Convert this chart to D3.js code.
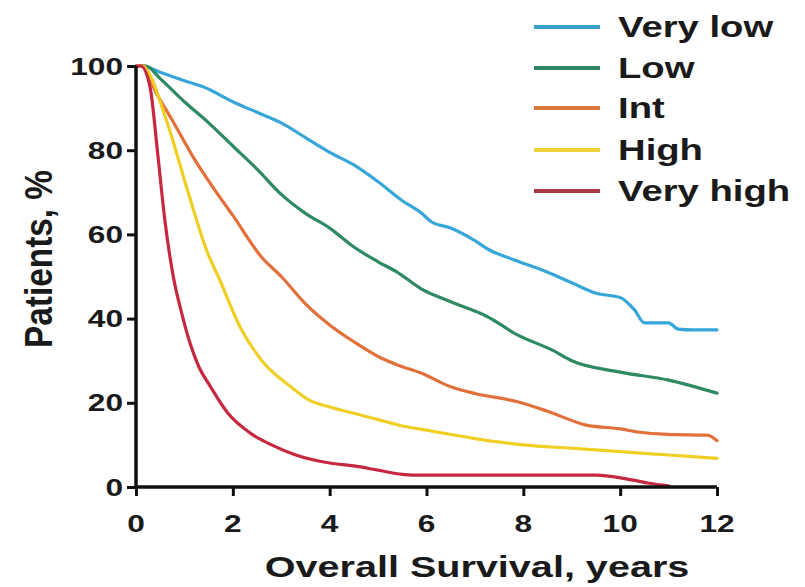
<!DOCTYPE html>
<html><head><meta charset="utf-8">
<script src="https://cdn.jsdelivr.net/npm/d3@7"></script>
<style>body{margin:0;background:#fff}svg{display:block}text{font-family:"Liberation Sans",Arial,sans-serif;font-weight:bold;fill:#1a1a1a}</style>
</head><body>
<svg id="c" width="805" height="587"></svg>
<script>
const seriesNames = ["Very low", "Low", "Int", "High", "Very high"];
const seriesColors = ["#37a6d8", "#2d8a63", "#e2703a", "#f0cf24", "#c62841"];
const legendColors = ["#3a9fcf", "#2f8462", "#d9743f", "#ecd13a", "#a93646"];
const xTicks = [0, 2, 4, 6, 8, 10, 12];
const yTicks = [0, 20, 40, 60, 80, 100];

const veryLowT = [0, 0.15, 0.5, 1.0, 1.4, 2, 2.5, 3, 3.5, 4, 4.5, 5, 5.5, 5.9, 6.1, 6.5, 7, 7.3, 7.8, 8.5, 9, 9.5, 10, 10.3, 10.5, 11, 11.2, 11.5, 12];
const veryLowV = [100, 100, 98.5, 96.5, 95, 91.5, 89, 86.5, 83, 79.5, 76.5, 72.5, 68, 65, 63, 61.5, 58.5, 56.3, 54, 51, 48.5, 46, 45, 42, 39, 39, 37.5, 37.3, 37.3];
const lowT = [0, 0.2, 0.5, 1.0, 1.5, 2, 2.5, 3, 3.5, 4, 4.5, 5, 5.4, 5.9, 6.5, 7.25, 7.9, 8.6, 9, 10, 11, 12];
const lowV = [100, 100, 97, 91.5, 86.5, 81, 75.5, 69.5, 65, 61.5, 57, 53.5, 51, 47, 44, 40.5, 36, 32.5, 30, 27.3, 25.4, 22.3];
const intT = [0, 0.15, 0.4, 0.77, 1.2, 1.6, 2, 2.6, 3, 3.5, 4, 4.5, 5, 5.4, 5.9, 6.5, 7, 7.9, 8.5, 9.3, 10, 10.4, 11, 11.8, 12];
const intV = [100, 100, 94, 86.7, 78, 71, 64.5, 54.5, 50, 43.5, 38.5, 34.5, 31, 29, 27, 23.8, 22.2, 20.2, 18, 14.7, 13.8, 13, 12.5, 12.3, 11];
const highT = [0, 0.12, 0.64, 1.05, 1.5, 1.7, 2.15, 2.6, 3.2, 3.6, 4, 4.5, 5, 5.5, 6, 7, 8, 9, 10, 11, 12];
const highV = [100, 100, 86.7, 71, 55, 50, 38, 30, 23.8, 20.5, 19, 17.5, 16, 14.5, 13.5, 11.5, 10, 9.2, 8.4, 7.6, 6.8];
const veryHighT = [0, 0.1, 0.29, 0.45, 0.6, 0.77, 0.95, 1.12, 1.3, 1.53, 1.9, 2.36, 2.8, 3.3, 4, 4.5, 5, 5.5, 5.9, 7, 8, 9.5, 10.1, 10.6, 11];
const veryHighV = [100, 100, 95, 79, 63, 50, 41, 34, 28.5, 24, 17.5, 12.8, 10, 7.6, 5.7, 5, 4, 3, 2.8, 2.8, 2.8, 2.8, 2, 0.9, 0.3];

const seriesT = [veryLowT, lowT, intT, highT, veryHighT];
const seriesV = [veryLowV, lowV, intV, highV, veryHighV];

const svg = d3.select("#c");
const x = d3.scaleLinear().domain([0, 12]).range([136, 717]);
const y = d3.scaleLinear().domain([0, 100]).range([487, 66]);
const SX = 1.32;

function stretchedText(g, tx, ty, str, size, anchor) {
  return g.append("text").attr("transform", `translate(${tx},${ty}) scale(${SX},1)`)
    .attr("text-anchor", anchor).style("font-size", size + "px").text(str);
}

// curves
const line = d3.line().x(d => x(d[0])).y(d => y(d[1])).curve(d3.curveMonotoneX);
seriesT.forEach((ts, i) => {
  const pts = ts.map((t, j) => [t, seriesV[i][j]]);
  svg.append("path").attr("d", line(pts)).attr("fill", "none")
    .attr("stroke", seriesColors[i]).attr("stroke-width", 3.2)
    .attr("stroke-linejoin", "round").attr("stroke-linecap", "round");
});

// axes
const xAxis = svg.append("g").attr("transform", `translate(0,${y(0)})`)
  .call(d3.axisBottom(x).tickValues(xTicks).tickSize(9).tickFormat(""));
const yAxis = svg.append("g").attr("transform", `translate(${x(0)},0)`)
  .call(d3.axisLeft(y).tickValues(yTicks).tickSize(9).tickFormat(""));
[xAxis, yAxis].forEach(a => {
  a.select(".domain").attr("stroke", "#111").attr("stroke-width", 3.5);
  a.selectAll(".tick line").attr("stroke", "#111").attr("stroke-width", 3);
});
xAxis.select(".domain").attr("d", `M${x(0)},0H${x(12)}`);
yAxis.select(".domain").attr("d", `M0,${y(0) + 1.5}V${y(100)}`);

const labels = svg.append("g");
xTicks.forEach(t => stretchedText(labels, x(t), 532, String(t), 24, "middle"));
yTicks.forEach(v => stretchedText(labels, 123, y(v) + 8.5, String(v), 24, "end"));

// axis titles
stretchedText(labels, 477, 577, "Overall Survival, years", 30, "middle");
labels.append("text")
  .attr("transform", `translate(52,259) scale(${SX},1) rotate(-90)`)
  .attr("text-anchor", "middle").style("font-size", "30px")
  .attr("textLength", 178).attr("lengthAdjust", "spacingAndGlyphs")
  .text("Patients, %");

// legend
const legY = [27, 68, 108, 150, 191];
seriesNames.forEach((n, i) => {
  svg.append("line").attr("x1", 534).attr("x2", 600).attr("y1", legY[i]).attr("y2", legY[i])
    .attr("stroke", legendColors[i]).attr("stroke-width", 4);
  stretchedText(svg, 618, legY[i] + 10, n, 29, "start");
});
</script>
</body></html>
